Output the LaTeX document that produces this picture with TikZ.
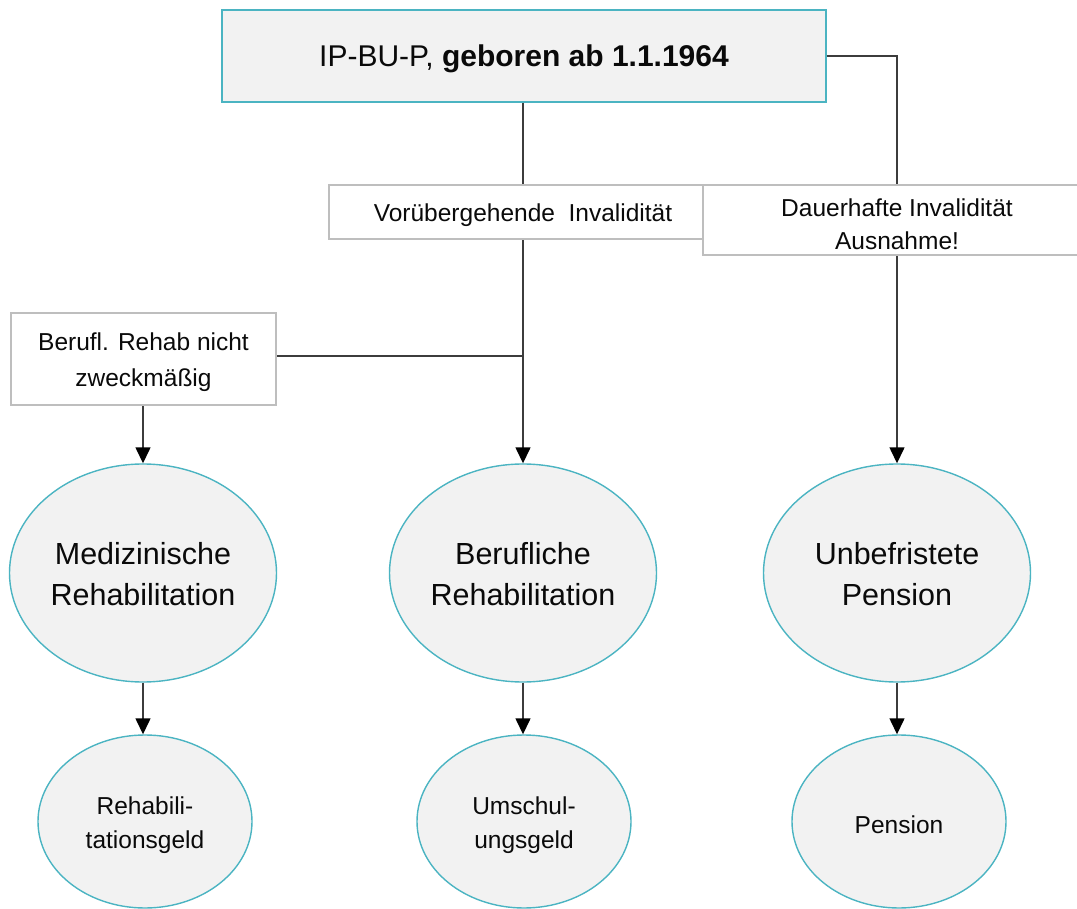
\documentclass[tikz,border=0pt]{standalone}
\usepackage{fontspec}
\setmainfont{Liberation Sans}
\usetikzlibrary{shapes.geometric,arrows.meta}
\definecolor{rimteal}{RGB}{75,180,194}
\definecolor{softgray}{RGB}{242,242,242}
\definecolor{framegray}{RGB}{190,190,190}
\definecolor{linkgray}{RGB}{60,60,60}
\definecolor{inkblack}{RGB}{10,10,10}
\tikzset{
  headbox/.style={rectangle, draw=rimteal, line width=1.4pt, fill=softgray,
    minimum width=604pt, minimum height=92pt, inner sep=0pt},
  notebox/.style={rectangle, draw=framegray, line width=1.2pt, fill=white,
    inner sep=0pt},
  bigoval/.style={ellipse, draw=rimteal, line width=1.4pt, fill=softgray,
    minimum width=267pt, minimum height=218pt, inner sep=0pt},
  smalloval/.style={ellipse, draw=rimteal, line width=1.4pt, fill=softgray,
    minimum width=214pt, minimum height=173pt, inner sep=0pt},
  words/.style={inner sep=0pt, align=center, text=inkblack},
  bigwords/.style={words, font=\fontsize{30.5}{41}\selectfont},
  smallwords/.style={words, font=\fontsize{24.5}{34}\selectfont},
  link/.style={draw=linkgray, line width=1.4pt},
  arrowlink/.style={link, -{Triangle[length=16pt,width=15pt,color=black]}},
}
\begin{document}
\begin{tikzpicture}[x=1pt,y=-1pt]
\useasboundingbox (0,0) rectangle (1077,909);

% ovals
\node[bigoval] (med) at (143,573) {};
\node[bigoval] (ber) at (523,573) {};
\node[bigoval] (unb) at (897,573) {};
\node[smalloval] (geld1) at (145,821.5) {};
\node[smalloval] (geld2) at (524,821.5) {};
\node[smalloval] (geld3) at (899,821.5) {};

\node[bigwords] (medtext) at (143,574) {Medizinische\\Rehabilitation};
\node[bigwords] (bertext) at (523,574) {Berufliche\\Rehabilitation};
\node[bigwords] (unbtext) at (897,574) {Unbefristete\\Pension};
\node[smallwords] (geld1text) at (145,825) {Rehabili-\\tationsgeld};
\node[smallwords] (geld2text) at (524,825) {Umschul-\\ungsgeld};
\node[smallwords] (geld3text) at (899,825) {Pension};

% title box
\node[headbox] (head) at (524,56) {};
\node[words, font=\fontsize{30}{36}\selectfont] (headtext) at (524,59)
  {IP-BU-P, \textbf{geboren ab 1.1.1964}};

% connectors (drawn before the label boxes so these cover them)
\coordinate (fork) at (523,356);
\draw[link] (head.south -| ber) -- (523,185);
\draw[arrowlink] (523,239) -- (ber.north);
\draw[link] (fork) -- (276,356);
\draw[link] (head.east) -- (897,56) -- (897,185);
\draw[arrowlink] (897,255) -- (unb.north);
\draw[arrowlink] (143,405) -- (med.north);
\draw[arrowlink] (med.south) -- (med.south |- geld1.north);
\draw[arrowlink] (ber.south) -- (ber.south |- geld2.north);
\draw[arrowlink] (unb.south) -- (unb.south |- geld3.north);

% label boxes
\node[notebox, minimum width=388pt, minimum height=54pt] (temp) at (523,212) {};
\node[smallwords] (temptext) at (523,215) {Vorübergehende\ \ Invalidität};
\node[notebox, minimum width=388pt, minimum height=70pt] (perm) at (897,220) {};
\node[words, font=\fontsize{24.5}{33}\selectfont] (permtext) at (897,224)
  {Dauerhafte Invalidität\\Ausnahme!};
\node[notebox, minimum width=265pt, minimum height=92pt] (nomed) at (143.5,359) {};
\node[words, font=\fontsize{24.5}{36}\selectfont] (nomedtext) at (143.5,362.5)
  {Berufl. Rehab nicht\\zweckmäßig};
\end{tikzpicture}
\end{document}
